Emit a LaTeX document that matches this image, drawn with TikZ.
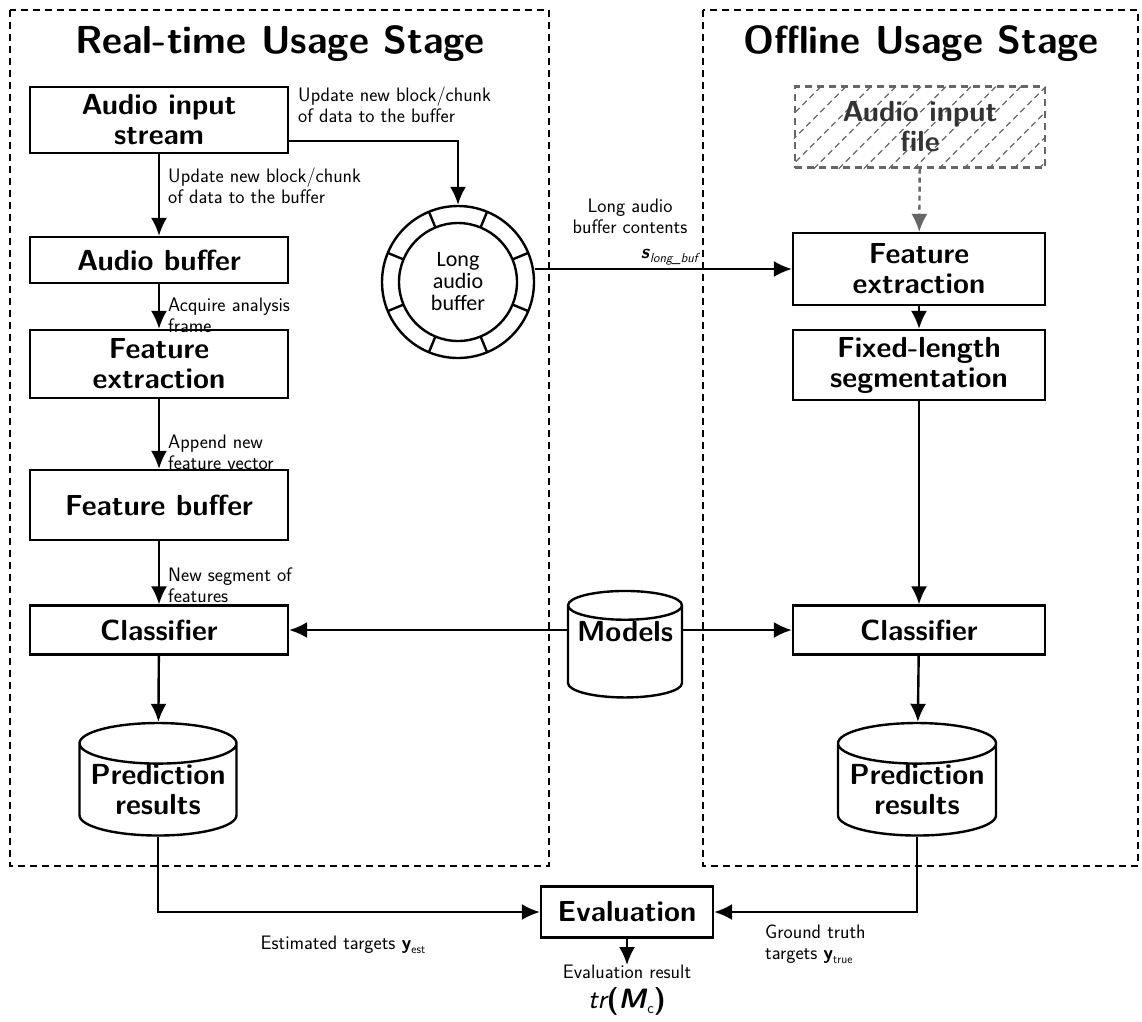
\documentclass[tikz,border=0pt]{standalone}
\usepackage{fontspec}
\newfontfamily\ringfont{Carlito}
\usetikzlibrary{arrows.meta,shapes.geometric,calc}
\definecolor{hatchgray}{HTML}{666666}
\definecolor{textgray}{HTML}{333333}

\begin{document}
\begin{tikzpicture}[x=1pt,y=-1pt,
  every node/.style={font=\sffamily},
  block/.style={draw, line width=2.2pt, minimum width=258, align=center, inner sep=0pt,
    font=\sffamily\bfseries\fontsize{29}{30}\selectfont},
  lbl/.style={align=left, inner sep=0pt, font=\sffamily\fontsize{19.5}{21}\selectfont},
  arr/.style={line width=2.4pt, -{Latex[length=18pt,width=16pt]}},
  db/.style={cylinder, shape border rotate=90, draw, line width=2.4pt, aspect=0.3,
    align=center, inner sep=0pt, font=\sffamily\bfseries\fontsize{29}{30}\selectfont},
  stage/.style={line width=2.4pt, dash pattern=on 7pt off 5pt},
  title/.style={font=\sffamily\bfseries\fontsize{39}{42}\selectfont},
]
\useasboundingbox (0,0) rectangle (1142,1021);

% stage frames
\draw[stage] (10,10) rectangle (549,866);
\draw[stage] (703,10) rectangle (1138,866);
\node[title] (tl) at (280,44) {Real-time Usage Stage};
\node[title] (tr) at (921,44) {Offline Usage Stage};

% real-time chain
\node[block, minimum height=66] (ais) at (159,120) {Audio input\\stream};
\node[block, minimum height=46] (ab)  at (159,260) {Audio buffer};
\node[block, minimum height=68] (fel) at (159,364) {Feature\\extraction};
\node[block, minimum height=70] (fb)  at (159,505) {Feature buffer};
\node[block, minimum height=49] (cl)  at (159,630) {Classifier};
\node[db, minimum width=157, minimum height=104] (prl) at (158,790) {Prediction\\results};

% ring buffer
\node[circle, draw, line width=2.4pt, minimum size=152, inner sep=0pt, align=center,
  font=\ringfont\fontsize{22}{22}\selectfont] (ring) at (458,282) {Long\\audio\\buffer};
\draw[line width=2.4pt] (ring.center) circle (59);
\foreach \a in {22.5,67.5,...,337.5}
  \draw[line width=2.4pt] (ring.center) ++(\a:59) -- ++(\a:17);

% offline chain
\node[draw=hatchgray, line width=2.4pt, dash pattern=on 7pt off 5pt, minimum width=250,
  minimum height=81, inner sep=0pt] (aif) at (920,127) {};
\begin{scope}
  \clip (aif.south west) rectangle (aif.north east);
  \foreach \k in {0,...,13}
    \draw[hatchgray, line width=1.3pt, dash pattern=on 6pt off 4pt]
      ($(aif.south west)+(\k*25-80,0)$) -- ++(82,-82);
\end{scope}
\node[align=center, text=textgray, inner sep=0pt,
  font=\sffamily\bfseries\fontsize{29}{30}\selectfont] (aiftext) at (aif.center) {Audio input\\file};
\node[block, minimum width=252, minimum height=72] (fer) at (919,269) {Feature\\extraction};
\node[block, minimum width=252, minimum height=70] (seg) at (919,365) {Fixed-length\\segmentation};
\node[block, minimum width=252, minimum height=49] (clr) at (919,630) {Classifier};
\node[db, minimum width=158, minimum height=104] (prr) at (917,790) {Prediction\\results};

% shared parts: the model store, its label sitting high in the body
\node[db, minimum width=114, minimum height=102, text depth=42pt] (mod) at (625,652) {Models};
\node[block, minimum width=172, minimum height=51] (ev) at (627,912) {Evaluation};

% real-time connectors
\draw[arr] (ais) -- (ab);
\node[lbl, anchor=north west] (l1) at (168,168) {Update new block/chunk\\of data to the buffer};
\draw[arr] ($(ais.south east)+(0,-13)$) -| (ring.north);
\node[lbl, anchor=north west] (l0) at (298,87) {Update new block/chunk\\of data to the buffer};
\draw[arr] (ab) -- (fel);
\node[lbl, anchor=north west] (l2) at (168,298) {Acquire analysis\\frame};
\draw[arr] (fel) -- (fb);
\node[lbl, anchor=north west] (l3) at (168,435) {Append new\\feature vector};
\draw[arr] (fb) -- (cl);
\node[lbl, anchor=north west] (l4) at (168,568) {New segment of\\features};
\draw[arr] (cl) -- (prl);

% offline connectors
\draw[hatchgray, line width=2.4pt, dash pattern=on 5pt off 4pt,
  -{Latex[length=18pt,width=16pt]}] (aif) -- (fer);
\draw[arr] (ring.east |- fer.west) -- (fer.west);
\node[lbl, align=center, anchor=north] (l5) at (630,199) {Long audio\\buffer contents};
\node[lbl, anchor=north east] (l6) at (698,249)
  {\textbf{\textit{s}}\raisebox{-0.45ex}{\fontsize{13}{14}\selectfont\itshape long\_buf}};
\draw[arr] (fer) -- (seg);
\draw[arr] (seg) -- (clr);
\draw[arr] (clr) -- (prr);

% models feed both classifiers
\draw[arr] (mod.west |- cl.east) -- (cl.east);
\draw[arr] (mod.east |- clr.west) -- (clr.west);

% evaluation
\draw[arr] (prl.south) |- (ev.west);
\draw[arr] (prr.south) |- (ev.east);
\node[lbl] (l7) at (343,945) {Estimated targets \textbf{y}\raisebox{-0.45ex}{\fontsize{12}{13}\selectfont est}};
\node[lbl, anchor=north west] (l8) at (765,925) {Ground truth\\targets \textbf{y}\raisebox{-0.45ex}{\fontsize{12}{13}\selectfont true}};
\node[lbl, anchor=north] (res) at (627,965) {Evaluation result};
\node[inner sep=0pt, anchor=north, font=\sffamily\fontsize{28}{30}\selectfont] (resm) at (627,987)
  {\itshape tr\upshape\bfseries(\itshape M\/\mdseries\upshape\raisebox{-0.45ex}{\fontsize{15}{16}\selectfont c}\bfseries)};
\draw[arr] (ev) -- (res);

\end{tikzpicture}
\end{document}
